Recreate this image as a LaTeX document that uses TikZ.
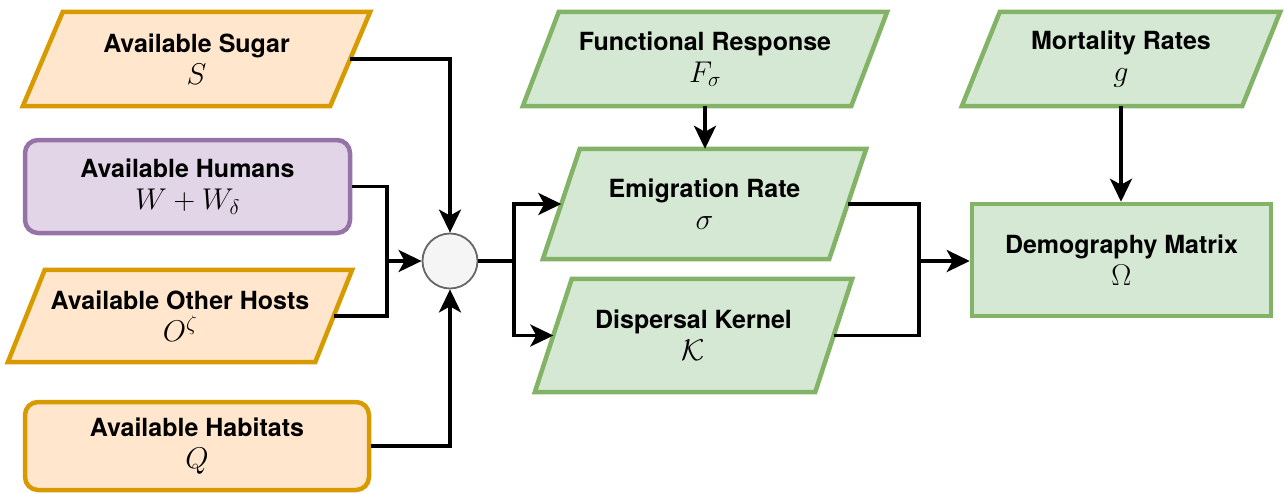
\RequirePackage{fix-cm}
\documentclass[tikz,border=0pt]{standalone}
\usepackage{fontspec}
\setsansfont{TeX Gyre Heros}
\usetikzlibrary{arrows.meta,backgrounds,calc}

\definecolor{orangeL}{HTML}{FFE6CC}
\definecolor{orangeD}{HTML}{D79B00}
\definecolor{purpleL}{HTML}{E1D5E7}
\definecolor{purpleD}{HTML}{9673A6}
\definecolor{greenL}{HTML}{D5E8D4}
\definecolor{greenD}{HTML}{82B366}
\definecolor{mixL}{HTML}{F5F5F5}
\definecolor{mixD}{HTML}{666666}

\tikzset{
  lbl/.style={inner sep=0pt, align=center,
    font=\sffamily\bfseries\fontsize{25}{32}\selectfont},
  orangebox/.style={draw=orangeD, fill=orangeL, line width=4.5pt},
  purplebox/.style={draw=purpleD, fill=purpleL, line width=4.5pt},
  greenbox/.style={draw=greenD, fill=greenL, line width=4.5pt},
  roundbox/.style={rounded corners=13pt},
  wire/.style={line width=3.5pt, line join=miter},
  conn/.style={wire, -{Stealth[length=23pt, width=22pt, inset=6pt]}},
}

% slanted input/output box drawn behind an invisible label node
\newcommand\slantbox[3]{%
  \begin{pgfonlayer}{background}
    \path[#2] ([xshift=#3]#1.north west) -- (#1.north east)
      -- ([xshift=-#3]#1.south east) -- (#1.south west) -- cycle;
  \end{pgfonlayer}
  \coordinate (#1-in) at ([xshift=#3/2]#1.west);
  \coordinate (#1-out) at ([xshift=-#3/2]#1.east);
}

\newcommand\mth[1]{{\fontsize{30}{32}\selectfont$#1$}}

\begin{document}
\begin{tikzpicture}[x=1pt, y=-1pt]
\useasboundingbox (0,0) rectangle (1285,493);

% inputs
\node[lbl, minimum width=347pt, minimum height=94pt] (S) at (196.5,59)
  {Available Sugar\\\mth{S}};
\slantbox{S}{orangebox}{40pt}

\node[lbl, roundbox, purplebox, minimum width=325pt, minimum height=93pt] (H) at (187.5,186.5)
  {Available Humans\\\mth{W + W_\delta}};

\node[lbl, minimum width=344pt, minimum height=92pt] (O) at (180,316)
  {Available Other Hosts\\\mth{O^\zeta}};
\slantbox{O}{orangebox}{37pt}

\node[lbl, roundbox, orangebox, minimum width=344pt, minimum height=88pt] (Q) at (197,446)
  {Available Habitats\\\mth{Q}};

% combination point
\node[circle, draw=mixD, fill=mixL, line width=1.8pt, minimum size=55pt, inner sep=0pt] (mix) at (450,261) {};

% dispersal quantities
\node[lbl, minimum width=364pt, minimum height=94pt] (F) at (705,59)
  {Functional Response\\\mth{F_\sigma}};
\slantbox{F}{greenbox}{36pt}

\node[lbl, minimum width=323pt, minimum height=110pt] (E) at (704.5,204)
  {Emigration Rate\\\mth{\sigma}};
\slantbox{E}{greenbox}{37pt}

\node[lbl, minimum width=317pt, minimum height=113pt] (K) at (693.5,335.5)
  {Dispersal Kernel\\\mth{\mathcal{K}}};
\slantbox{K}{greenbox}{37pt}

% demography
\node[lbl, minimum width=318pt, minimum height=94pt] (M) at (1121,59)
  {Mortality Rates\\\mth{g}};
\slantbox{M}{greenbox}{38pt}

\node[lbl, greenbox, minimum width=299pt, minimum height=112pt] (D) at (1121.5,260)
  {Demography Matrix\\\mth{\Omega}};

% junction points
\coordinate (jin) at (387,261);
\coordinate (jout) at (514,261);
\coordinate (jdem) at (919,261);

% connectors
\draw[conn] (S-out) -| (mix.north);
\draw[wire] (H.east) -| (jin);
\draw[wire] (O-out) -| (jin);
\draw[conn] (jin) -- (mix.west);
\draw[conn] (Q.east) -| (mix.south);

\draw[wire] (mix.east) -- (jout);
\draw[conn] (jout) |- (E-in);
\draw[conn] (jout) |- (K-in);

\draw[conn] (F.south) -- (F.south |- E.north);

\draw[wire] (E-out) -| (jdem);
\draw[wire] (K-out) -| (jdem);
\draw[conn] (jdem) -- (jdem -| D.west);

\draw[conn] (M.south) -- (M.south |- D.north);
\end{tikzpicture}
\end{document}
